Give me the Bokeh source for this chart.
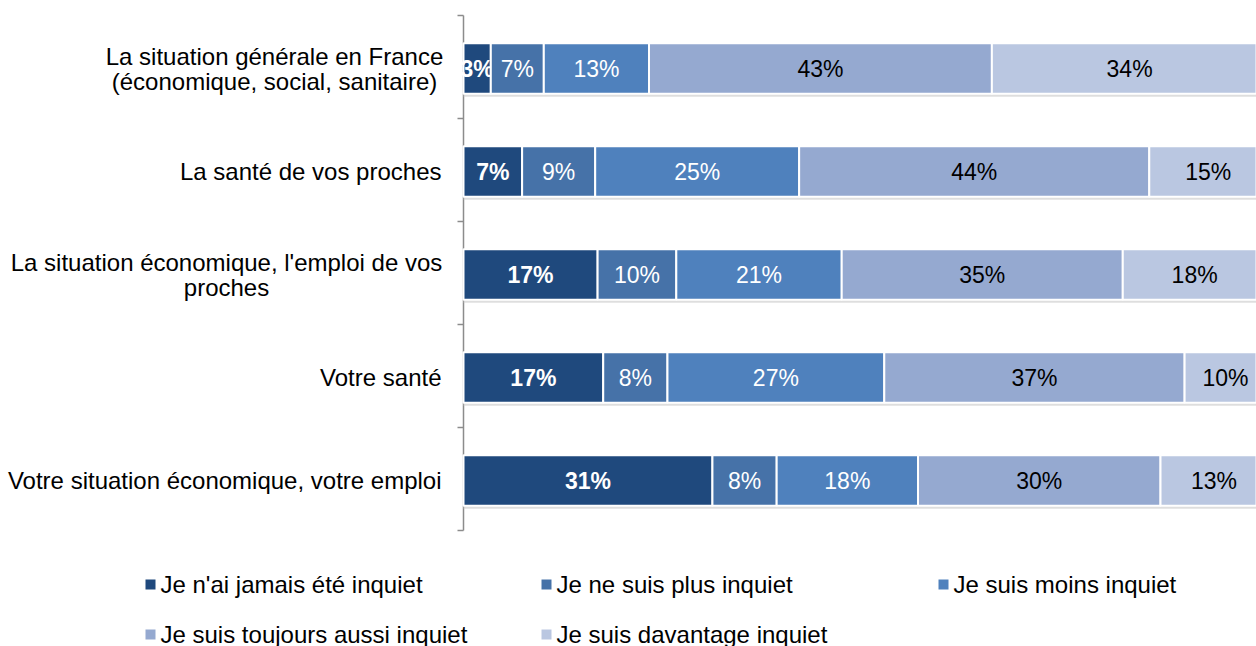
from bokeh.plotting import figure
from bokeh.models import Range1d, ColumnDataSource
from bokeh.core.properties import value
from bokeh.embed import file_html
from bokeh.resources import INLINE

# ---- data ----
categories = [
    ["La situation générale en France", "(économique, social, sanitaire)"],
    ["La santé de vos proches"],
    ["La situation économique, l'emploi de vos", "proches"],
    ["Votre santé"],
    ["Votre situation économique, votre emploi"],
]
series_names = [
    "Je n'ai jamais été inquiet",
    "Je ne suis plus inquiet",
    "Je suis moins inquiet",
    "Je suis toujours aussi inquiet",
    "Je suis davantage inquiet",
]
jamais = [3.4, 7.3, 16.7, 17.4, 31.0]
plus = [6.6, 9.1, 9.8, 8.0, 8.0]
moins = [13.1, 25.4, 20.6, 27.0, 17.6]
toujours = [42.7, 43.6, 35.0, 37.4, 30.2]
davantage = [34.3, 14.7, 17.9, 10.2, 13.3]
colors = ["#1F497D", "#4672A8", "#4F81BD", "#95A9D0", "#BAC7E1"]
label_colors = ["white", "white", "white", "black", "black"]
label_styles = ["bold", "normal", "normal", "normal", "normal"]

series = [jamais, plus, moins, toujours, davantage]
n = len(categories)

# ---- layout (pixels) ----
W, H = 1256, 646
AX_X = 463          # axis x in px
AX_Y0 = 530         # axis bottom in px (value 0)
KX = 8.03           # px per percent
KY = 103.0          # px per category band

def dx(px):  # horizontal px offset from axis -> data
    return px / KX

def dy(py):  # page y px -> data y
    return (AX_Y0 - py) / KY

FONT = value("Liberation Sans")
FS = "23px"
FS_CAT = "24px"

p = figure(width=W, height=H, output_backend="svg", toolbar_location=None,
           x_range=Range1d(-AX_X / KX, (W - AX_X) / KX),
           y_range=Range1d(dy(H), dy(0)),
           x_axis_location=None, y_axis_location=None,
           min_border=0)
p.outline_line_color = None
p.grid.visible = False
p.background_fill_color = "white"
p.border_fill_color = "white"

ypos = [n - 0.5 - i - 0.015 for i in range(n)]

# axis line and ticks
axis_col = "#8c8c8c"
p.segment(x0=[0], y0=[0], x1=[0], y1=[n], line_color=axis_col, line_width=1.5)
p.segment(x0=[dx(-6)] * (n + 1), y0=list(range(n + 1)), x1=[0] * (n + 1),
          y1=list(range(n + 1)), line_color=axis_col, line_width=1.5)

# shadow under bars
totals = [sum(s[i] for s in series) for i in range(n)]
p.hbar(y=[y - 0.03 for y in ypos], left=0, right=totals, height=0.49,
       fill_color="#c8c8c8", line_color=None, fill_alpha=0.6)

left = [0.0] * n
for k, s in enumerate(series):
    right = [left[i] + s[i] for i in range(n)]
    src = ColumnDataSource(dict(y=ypos, left=left, right=right,
                                cx=[(left[i] + right[i]) / 2 for i in range(n)],
                                lab=["%d%%" % round(v) for v in s]))
    p.hbar(y="y", left="left", right="right", height=0.49, source=src,
           fill_color=colors[k], line_color="white", line_width=2)
    p.text(x="cx", y="y", text="lab", source=src, text_align="center",
           text_baseline="middle", text_color=label_colors[k],
           text_font=FONT, text_font_size=FS, text_font_style=label_styles[k])
    left = right

# category labels
block_center = {0: -189, 2: -237}
for i, lines in enumerate(categories):
    if len(lines) == 1:
        p.text(x=[dx(-22)], y=[ypos[i]], text=[lines[0]], text_align="right",
               text_baseline="middle", text_font=FONT, text_font_size=FS_CAT,
               text_color="black")
    else:
        m = len(lines)
        ys = [ypos[i] + (12.5 * (m - 1) - 25 * j) / KY for j in range(m)]
        p.text(x=[dx(block_center[i])] * m, y=ys, text=lines, text_align="center",
               text_baseline="middle", text_font=FONT, text_font_size=FS_CAT,
               text_color="black")

# legend (drawn manually)
leg_x = [150, 546, 943, 150, 546]
leg_y = [584, 584, 584, 634, 634]
p.scatter(x=[dx(x - AX_X) for x in leg_x], y=[dy(y) for y in leg_y], marker="square",
          size=10, fill_color=colors, line_color=None)
p.text(x=[dx(x - AX_X + 10) for x in leg_x], y=[dy(y) for y in leg_y], text=series_names,
       text_align="left", text_baseline="middle", text_font=FONT,
       text_font_size="24px", text_color="black")

open("out.html", "w").write(file_html(p, INLINE))
